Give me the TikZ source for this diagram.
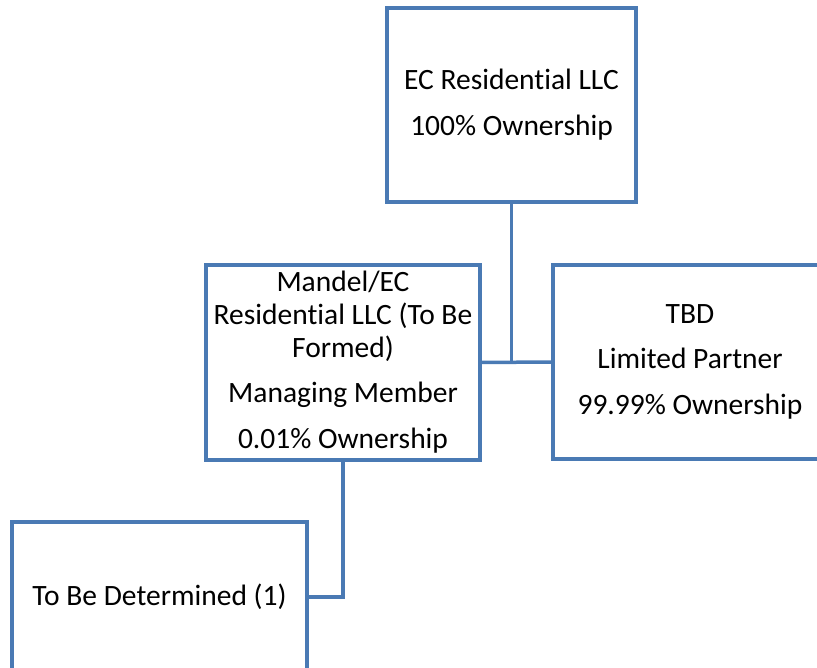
\documentclass[tikz,border=0pt]{standalone}
\usepackage{fontspec}
\setmainfont{Carlito}[Ligatures=NoCommon]
\definecolor{boxblue}{RGB}{74,122,180}
\begin{document}
\begin{tikzpicture}[x=1pt,y=-1pt,
  orgbox/.style={draw=boxblue, line width=3.5pt, fill=white, rectangle, inner sep=0pt,
    align=center, font=\fontsize{29.5}{33}\selectfont, text=black},
  link/.style={draw=boxblue, line width=3.5pt}]
\useasboundingbox (0,0) rectangle (817,668);
\clip (0,0) rectangle (817,668);
\node[orgbox, minimum width=249pt, minimum height=194pt] (top) at (511.5,105)
  {EC Residential LLC\\[13pt]100\% Ownership};
\node[orgbox, minimum width=274pt, minimum height=195pt] (mandel) at (343,362.5)
  {Mandel/EC\\Residential LLC (To Be\\Formed)\\[12pt]Managing Member\\[13pt]0.01\% Ownership};
\node[orgbox, minimum width=274pt, minimum height=194pt] (lp) at (690,362)
  {TBD\\[12pt]Limited Partner\\[13pt]99.99\% Ownership};
\node[orgbox, minimum width=295pt, minimum height=150pt] (tbd) at (159.5,597)
  {To Be Determined (1)};
\draw[link] (top.south) -- (top.south |- mandel.east);
\draw[link] (mandel.east) -- (lp.west);
\draw[link] (mandel.south) |- (tbd.east);
\end{tikzpicture}
\end{document}
